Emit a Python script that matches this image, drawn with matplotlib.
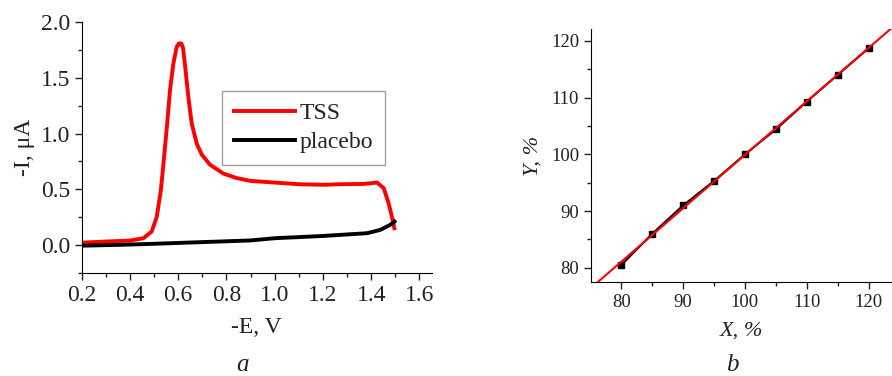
import numpy as np
import matplotlib.pyplot as plt
from matplotlib.ticker import MultipleLocator

# ---- panel a: voltammograms ----
tss_E = [0.20, 0.30, 0.40, 0.456, 0.490, 0.511, 0.528, 0.539, 0.553, 0.566,
         0.580, 0.594, 0.603, 0.613, 0.620, 0.629, 0.642, 0.656, 0.677, 0.698,
         0.732, 0.788, 0.843, 0.90, 1.00, 1.10, 1.20, 1.272, 1.369, 1.424,
         1.452, 1.472, 1.489, 1.496]
tss_I = [0.02, 0.03, 0.039, 0.06, 0.12, 0.25, 0.49, 0.73, 1.06, 1.39,
         1.63, 1.78, 1.81, 1.81, 1.77, 1.60, 1.33, 1.09, 0.91, 0.81,
         0.72, 0.64, 0.60, 0.575, 0.56, 0.545, 0.54, 0.545, 0.548, 0.56,
         0.51, 0.375, 0.225, 0.15]
placebo_E = [0.20, 0.35, 0.50, 0.70, 0.90, 1.00, 1.20, 1.272, 1.383, 1.438,
             1.479, 1.497]
placebo_I = [-0.007, 0.0, 0.01, 0.025, 0.04, 0.06, 0.08, 0.09, 0.105, 0.135,
             0.18, 0.21]

# ---- panel b: found vs taken ----
x_pct = [80, 85, 90, 95, 100, 105, 110, 115, 120]
y_pct = [80.5, 86.0, 91.0, 95.3, 100.0, 104.4, 109.3, 114.0, 118.7]

plt.rcParams['font.family'] = ['Liberation Serif', 'DejaVu Serif']
plt.rcParams['text.color'] = '#222222'
plt.rcParams['axes.labelcolor'] = '#222222'
plt.rcParams['xtick.color'] = '#222222'
plt.rcParams['ytick.color'] = '#222222'

fig = plt.figure(figsize=(8.92, 3.76), dpi=100)

# left panel
ax1 = fig.add_axes([0.0916, 0.2747, 0.3924, 0.666])
ax1.plot(tss_E, tss_I, color='red', lw=2.8, label='TSS',
         solid_joinstyle='round')
ax1.plot(placebo_E, placebo_I, color='black', lw=2.8, label='placebo',
         solid_joinstyle='round')
ax1.set_xlim(0.2, 1.651)
ax1.set_ylim(-0.25, 2.0)
ax1.xaxis.set_major_locator(MultipleLocator(0.2))
ax1.xaxis.set_minor_locator(MultipleLocator(0.1))
ax1.yaxis.set_major_locator(MultipleLocator(0.5))
ax1.yaxis.set_minor_locator(MultipleLocator(0.25))
ax1.xaxis.set_major_formatter(plt.FormatStrFormatter('%.1f'))
ax1.yaxis.set_major_formatter(plt.FormatStrFormatter('%.1f'))
ax1.tick_params(which='major', direction='out', length=5, width=1, labelsize=17)
ax1.tick_params(which='minor', direction='out', length=3, width=1)
ax1.spines['top'].set_visible(False)
ax1.spines['right'].set_visible(False)
ax1.set_xlabel('-E, V', fontsize=17, labelpad=8)
ax1.set_ylabel('-I, μA', fontsize=17, labelpad=4)
leg = ax1.legend(loc='upper left', bbox_to_anchor=(0.401, 0.726), fontsize=17,
                 frameon=True, fancybox=False, edgecolor='#888888',
                 handlelength=2.6, handletextpad=0.2, borderpad=0.5,
                 labelspacing=0.3, borderaxespad=0)
leg.get_frame().set_linewidth(1.0)
fig.text(0.272, 0.0, 'a', fontsize=18, style='italic', ha='center', va='bottom')

# right panel
ax2 = fig.add_axes([0.6626, 0.25, 0.3374, 0.6729])
ax2.plot(x_pct, y_pct, color='black', lw=1.5, marker='s', ms=4)
k, b = np.polyfit(x_pct, y_pct, 1)
xx = np.array([75.1, 123.8])
ax2.plot(xx, k * xx + b, color='red', lw=1.5)
ax2.set_xlim(75.1, 123.8)
ax2.set_ylim(77.5, 122.1)
ax2.xaxis.set_major_locator(MultipleLocator(10))
ax2.xaxis.set_minor_locator(MultipleLocator(5))
ax2.yaxis.set_major_locator(MultipleLocator(10))
ax2.yaxis.set_minor_locator(MultipleLocator(5))
ax2.tick_params(which='major', direction='out', length=5, width=1, labelsize=13.5)
ax2.tick_params(which='minor', direction='out', length=3, width=1)
ax2.spines['top'].set_visible(False)
ax2.spines['right'].set_visible(False)
ax2.set_xlabel('X, %', fontsize=16, style='italic', labelpad=8)
ax2.set_ylabel('Y, %', fontsize=16, style='italic', labelpad=6)
fig.text(0.821, 0.0, 'b', fontsize=18, style='italic', ha='center', va='bottom')

plt.savefig('out.png', dpi=100)
